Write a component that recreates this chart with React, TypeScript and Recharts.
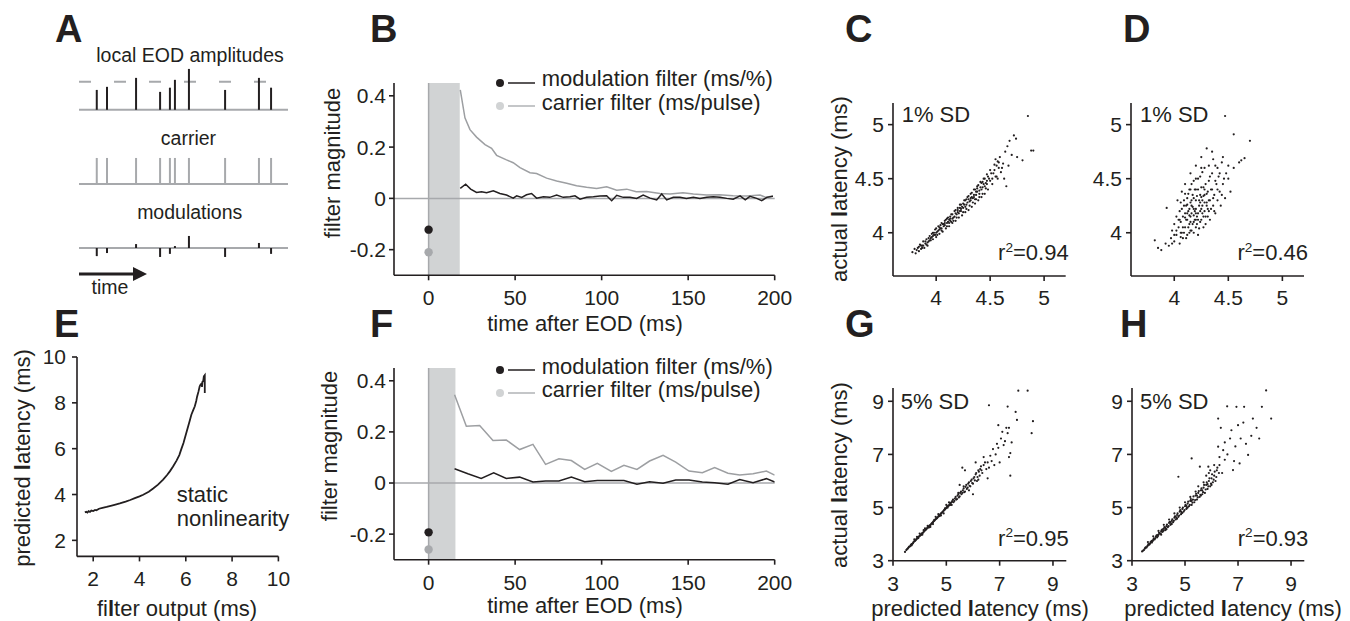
import React from "react";
import {
  ComposedChart,
  ScatterChart,
  Scatter,
  Line,
  XAxis,
  YAxis,
  ReferenceLine,
  ReferenceArea,
} from "recharts";

const INK = "#231f20";
const GREY = "#a7a9ac";
const LINE_GREY = "#9d9fa2";
const SHADE = "#d1d3d4";
const FONT = '"Liberation Sans", Arial, Helvetica, sans-serif';

// ---- panel A: toy pulse train ----
const eodTimes = [0.085, 0.134, 0.273, 0.388, 0.435, 0.459, 0.526, 0.699, 0.861, 0.919];
const eodAmplitudes = [0.71, 0.82, 1.14, 0.64, 0.79, 1.07, 1.46, 0.71, 1.14, 0.79];
const carrierHeights = [0.93, 0.93, 0.93, 0.93, 0.93, 0.93, 0.93, 0.93, 0.93, 0.93];
const modulationHeights = [-0.29, -0.18, 0.14, -0.32, -0.21, 0.07, 0.43, -0.32, 0.18, -0.21];
const meanAmplitude = 1;

// ---- panels B / F: filters (ms after EOD, magnitude) ----
const timeTicks = [0, 50, 100, 150, 200];
const magTicks = [-0.2, 0, 0.2, 0.4];

const carrierB = [
  [18.3, 0.423], [21, 0.314], [23.9, 0.268], [27.7, 0.239], [32.6, 0.21], [36.4, 0.195],
  [39.3, 0.168], [45, 0.15], [48.9, 0.139], [52.8, 0.12], [58.6, 0.1], [62.4, 0.097],
  [68.2, 0.079], [74, 0.068], [79.8, 0.059], [85.5, 0.049], [91.3, 0.043], [97.1, 0.039],
  [102.9, 0.045], [108.7, 0.032], [114.5, 0.036], [120, 0.026], [126, 0.027], [133.7, 0.019],
  [139.5, 0.017], [147, 0.022], [153, 0.017], [160.7, 0.013], [168, 0.014], [176, 0.01],
  [184, 0.009], [191.5, 0.013], [195, 0.004], [199, 0.009],
];
const modulationB = [
  [18.3, 0.039], [21.4, 0.055], [24.3, 0.036], [27.7, 0.023], [30.6, 0.026], [33.5, 0.022],
  [37.4, 0.03], [41.2, 0.019], [45, 0.013], [48.9, 0.001], [50.9, 0.01], [53.8, 0.004],
  [56.6, 0.014], [59.5, 0.019], [62.4, 0.001], [66.3, 0.006], [70, 0.004], [74, 0.013],
  [77.8, 0.004], [81.7, 0.006], [84.6, 0.01], [87.5, -0.003], [91.3, 0.004], [95.2, 0.006],
  [99, 0.009], [102.9, 0.01], [105.8, -0.009], [108.7, 0.012], [112.5, 0.004], [116.4, 0.004],
  [120.2, 0], [124, 0.013], [128, 0.001], [131.8, -0.006], [134.7, 0.017], [137.6, -0.006],
  [141.4, 0.004], [145.3, 0.004], [149, 0], [153, 0.004], [156.8, 0], [160.7, 0.004],
  [164.5, 0.006], [168.4, 0.004], [172.3, 0], [176, -0.003], [180, 0.01], [183, -0.006],
  [185.7, 0.008], [189.6, 0], [192.5, -0.009], [195.4, 0.004], [199, 0.008],
];
const carrierF = [
  [15, 0.345], [21.8, 0.222], [29.5, 0.225], [37.2, 0.166], [44.9, 0.168], [52.6, 0.131],
  [60.3, 0.151], [67.6, 0.073], [75.3, 0.095], [82.5, 0.088], [90.2, 0.053], [97.5, 0.077],
  [105.6, 0.045], [112.9, 0.069], [120.4, 0.053], [127.7, 0.086], [135.5, 0.108], [142.8, 0.082],
  [150.5, 0.047], [158.2, 0.04], [165.3, 0.06], [173, 0.038], [179.8, 0.031], [187.5, 0.036],
  [195.2, 0.047], [200, 0.031],
];
const modulationF = [
  [15, 0.056], [22.7, 0.036], [30.4, 0.018], [37.6, 0.04], [44.9, 0.018], [52.6, 0.023],
  [60.3, 0.004], [67.6, 0.008], [75.3, 0.008], [82.5, 0.023], [90.2, 0.005], [97.5, 0.01],
  [105.6, 0.01], [112.9, 0.01], [120.4, -0.005], [127.7, 0.005], [135.5, -0.001], [142.8, 0.012],
  [150.5, 0.012], [158.2, 0.004], [165.3, 0.001], [173, -0.005], [179.8, 0.014], [187.5, 0.001],
  [195.2, 0.017], [200, 0.004],
];
const instantB = { modulation: -0.122, carrier: -0.21, window: 18 };
const instantF = { modulation: -0.193, carrier: -0.26, window: 15.5 };

// ---- panel E: static nonlinearity ----
const nonlinearity = [
  [1.64, 3.22], [1.7, 3.25], [1.75, 3.21], [1.8, 3.27], [1.86, 3.24], [1.92, 3.3], [2.0, 3.28],
  [2.08, 3.33], [2.14, 3.31], [2.25, 3.38], [2.4, 3.42], [2.58, 3.46], [2.8, 3.52], [3.0, 3.57],
  [3.15, 3.61], [3.4, 3.69], [3.6, 3.76], [3.8, 3.84], [4.0, 3.92], [4.16, 3.99], [4.4, 4.12],
  [4.59, 4.26], [4.8, 4.43], [5.02, 4.65], [5.2, 4.86], [5.31, 5.01], [5.45, 5.22], [5.6, 5.48],
  [5.72, 5.72], [5.81, 5.99], [5.9, 6.25], [5.96, 6.47], [6.03, 6.72], [6.1, 6.97], [6.17, 7.22],
  [6.24, 7.48], [6.32, 7.68], [6.39, 7.85], [6.45, 8.08], [6.49, 8.28], [6.55, 8.5], [6.6, 8.72],
  [6.64, 8.8], [6.68, 8.84], [6.7, 8.7], [6.72, 8.92], [6.75, 8.94], [6.78, 9.16], [6.82, 9.21],
  [6.82, 8.43],
];
const nlTicks = [2, 4, 6, 8, 10];

// ---- panels C, D, G, H: predicted vs actual latency ----
const smallTicks = [4, 4.5, 5];
const bigTicks = [3, 5, 7, 9];

const latencyC = [
  [3.78, 3.82], [3.8, 3.85], [3.81, 3.81], [3.83, 3.86], [3.84, 3.83], [3.85, 3.89], [3.86, 3.85],
  [3.87, 3.88], [3.88, 3.92], [3.89, 3.86], [3.9, 3.9], [3.91, 3.94], [3.92, 3.88], [3.93, 3.92],
  [3.94, 3.97], [3.95, 3.93], [3.96, 3.99], [3.97, 3.94], [3.98, 3.98], [3.99, 4.03], [4.0, 3.96],
  [4.01, 4.01], [4.02, 4.06], [4.03, 3.99], [4.04, 4.04], [4.05, 4.09], [4.06, 4.01], [4.07, 4.06],
  [4.08, 4.11], [4.09, 4.04], [4.1, 4.09], [4.11, 4.14], [4.12, 4.06], [4.13, 4.11], [4.14, 4.17],
  [4.15, 4.09], [4.16, 4.14], [4.17, 4.2], [4.18, 4.11], [4.19, 4.17], [4.2, 4.23], [4.21, 4.14],
  [4.22, 4.2], [4.23, 4.26], [4.24, 4.16], [4.25, 4.23], [4.26, 4.3], [4.27, 4.19], [4.28, 4.26],
  [4.29, 4.33], [4.3, 4.21], [4.31, 4.29], [4.32, 4.36], [4.33, 4.24], [4.34, 4.32], [4.35, 4.4],
  [4.36, 4.27], [4.37, 4.35], [4.38, 4.43], [4.39, 4.3], [4.4, 4.39], [4.41, 4.47], [4.42, 4.33],
  [4.43, 4.42], [4.44, 4.5], [4.45, 4.36], [4.46, 4.46], [4.47, 4.54], [4.48, 4.4], [4.49, 4.5],
  [4.5, 4.58], [4.52, 4.45], [4.53, 4.55], [4.54, 4.63], [4.56, 4.52], [4.57, 4.66], [4.58, 4.6],
  [3.92, 3.91], [3.97, 3.97], [4.02, 4.02], [4.07, 4.08], [4.12, 4.12], [4.17, 4.15], [4.22, 4.23],
  [4.27, 4.24], [4.32, 4.3], [4.37, 4.38], [4.42, 4.4], [4.47, 4.48], [4.05, 4.04], [4.15, 4.13],
  [4.25, 4.27], [4.35, 4.33], [4.45, 4.43], [4.1, 4.13], [4.2, 4.19], [4.3, 4.31], [4.4, 4.36],
  [4.0, 4.0], [3.95, 3.95], [3.87, 3.86],
  [3.82, 3.84], [3.84, 3.87], [3.86, 3.88], [3.88, 3.88], [3.9, 3.92], [3.91, 3.89], [3.93, 3.95],
  [3.94, 3.93], [3.96, 3.96], [3.97, 4.0], [3.99, 3.98], [4.0, 4.04], [4.01, 3.98], [4.03, 4.03],
  [4.04, 4.07], [4.05, 4.02], [4.06, 4.08], [4.08, 4.07], [4.09, 4.12], [4.1, 4.06], [4.11, 4.1],
  [4.13, 4.15], [4.14, 4.1], [4.15, 4.17], [4.16, 4.11], [4.18, 4.18], [4.19, 4.14], [4.2, 4.21],
  [4.21, 4.18], [4.22, 4.26], [4.23, 4.2], [4.24, 4.24], [4.25, 4.19], [4.26, 4.26], [4.27, 4.3],
  [4.28, 4.22], [4.29, 4.28], [4.3, 4.34], [4.31, 4.25], [4.32, 4.32], [4.33, 4.37], [4.34, 4.28],
  [4.35, 4.35], [4.36, 4.4], [4.37, 4.31], [4.38, 4.38], [4.39, 4.44], [4.4, 4.33], [4.41, 4.42],
  [4.42, 4.46], [4.43, 4.36], [4.44, 4.45], [4.45, 4.5], [4.46, 4.41], [4.47, 4.45], [4.48, 4.52],
  [4.5, 4.48], [4.51, 4.55], [4.52, 4.5], [4.54, 4.58], [4.55, 4.52], [4.56, 4.62], [4.58, 4.65],
  [4.28, 4.31], [4.18, 4.21], [4.08, 4.09], [3.98, 4.0], [4.33, 4.33], [4.23, 4.22], [4.13, 4.13],
  [4.03, 4.05], [4.38, 4.41], [4.43, 4.47], [4.12, 4.09], [4.36, 4.31],
  [4.59, 4.7], [4.6, 4.56], [4.62, 4.64], [4.63, 4.5], [4.64, 4.75], [4.65, 4.43], [4.66, 4.8],
  [4.67, 4.62], [4.68, 4.85], [4.7, 4.72], [4.72, 4.9], [4.74, 4.87], [4.75, 4.7], [4.8, 4.67],
  [4.85, 5.08], [4.88, 4.76], [4.9, 4.76], [4.55, 4.68], [4.61, 4.6], [4.57, 4.5],
];
const latencyD = [
  [3.82, 3.93], [3.85, 3.86], [3.88, 3.84], [3.92, 3.9], [3.93, 4.23], [3.95, 3.88], [3.97, 3.95],
  [3.98, 4.02], [4.0, 3.92], [4.0, 4.08], [4.02, 3.98], [4.02, 4.15], [4.03, 4.3], [4.04, 4.05],
  [4.05, 3.9], [4.05, 4.2], [4.06, 4.1], [4.07, 4.0], [4.07, 4.38], [4.08, 4.15], [4.08, 3.95],
  [4.09, 4.25], [4.1, 4.05], [4.1, 4.45], [4.11, 4.12], [4.12, 4.32], [4.12, 3.98], [4.13, 4.2],
  [4.14, 4.08], [4.14, 4.4], [4.15, 4.15], [4.15, 4.55], [4.16, 4.02], [4.16, 4.25], [4.17, 4.35],
  [4.18, 4.1], [4.18, 4.48], [4.19, 4.2], [4.2, 4.05], [4.2, 4.3], [4.2, 4.62], [4.21, 4.15],
  [4.22, 4.4], [4.22, 3.98], [4.23, 4.25], [4.24, 4.1], [4.24, 4.52], [4.25, 4.33], [4.25, 4.7],
  [4.26, 4.18], [4.27, 4.42], [4.27, 4.05], [4.28, 4.28], [4.28, 4.6], [4.29, 4.15], [4.3, 4.36],
  [4.3, 4.78], [4.31, 4.22], [4.32, 4.48], [4.33, 4.3], [4.33, 4.12], [4.34, 4.4], [4.35, 4.55],
  [4.35, 4.75], [4.36, 4.25], [4.37, 4.35], [4.38, 4.62], [4.38, 4.18], [4.39, 4.45], [4.4, 4.3],
  [4.41, 4.52], [4.42, 4.38], [4.43, 4.25], [4.44, 4.65], [4.45, 4.45], [4.47, 4.32], [4.48, 4.55],
  [4.5, 4.5], [4.52, 4.38], [4.55, 4.6], [4.47, 5.08], [4.55, 4.91], [4.6, 4.65], [4.62, 4.67],
  [4.65, 4.69], [4.7, 4.85], [4.15, 4.1], [4.18, 4.22], [4.2, 4.18], [4.22, 4.12], [4.25, 4.22],
  [4.12, 4.12], [4.1, 4.18], [4.26, 4.3], [4.14, 4.0], [4.06, 4.0], [4.3, 4.28], [4.32, 4.2],
  [4.28, 4.4], [4.24, 4.35], [4.2, 4.4], [4.16, 4.3],
  [4.05, 4.12], [4.06, 3.96], [4.07, 4.22], [4.08, 4.05], [4.09, 4.3], [4.09, 4.0], [4.1, 4.14],
  [4.11, 4.25], [4.11, 3.95], [4.12, 4.18], [4.13, 4.05], [4.13, 4.36], [4.14, 4.22], [4.15, 4.02],
  [4.15, 4.28], [4.16, 4.18], [4.16, 4.45], [4.17, 4.08], [4.17, 4.24], [4.18, 4.0], [4.18, 4.32],
  [4.19, 4.12], [4.19, 4.4], [4.2, 4.22], [4.21, 4.08], [4.21, 4.34], [4.22, 4.18], [4.22, 4.5],
  [4.23, 4.04], [4.23, 4.3], [4.24, 4.2], [4.25, 4.12], [4.25, 4.42], [4.26, 4.25], [4.26, 4.56],
  [4.27, 4.15], [4.27, 4.34], [4.28, 4.2], [4.29, 4.45], [4.29, 4.08], [4.3, 4.25], [4.31, 4.38],
  [4.31, 4.15], [4.32, 4.3], [4.33, 4.52], [4.34, 4.22], [4.35, 4.4], [4.36, 4.32], [4.37, 4.2],
  [4.38, 4.48], [4.4, 4.4], [4.42, 4.55], [4.44, 4.35], [4.46, 4.5], [4.12, 4.26], [4.14, 4.16],
  [4.18, 4.16], [4.2, 4.12], [4.24, 4.28], [4.28, 4.35], [4.02, 4.02], [4.04, 4.12], [4.0, 3.98],
  [3.98, 3.9], [4.1, 4.36], [4.06, 4.28], [4.2, 4.5], [4.32, 4.62], [4.4, 4.6], [4.36, 4.68],
  [4.45, 4.7], [4.5, 4.62], [4.25, 4.6], [4.15, 4.4],
];
const latencyG = [
  [3.45, 3.33], [3.5, 3.4], [3.55, 3.45], [3.6, 3.52], [3.65, 3.55], [3.7, 3.62], [3.75, 3.66],
  [3.8, 3.73], [3.85, 3.77], [3.9, 3.83], [3.95, 3.88], [4.0, 3.93], [4.05, 3.97], [4.1, 4.04],
  [4.15, 4.08], [4.2, 4.14], [4.25, 4.18], [4.3, 4.24], [4.35, 4.29], [4.4, 4.34], [4.45, 4.4],
  [4.5, 4.45], [4.55, 4.5], [4.6, 4.56], [4.65, 4.6], [4.7, 4.66], [4.75, 4.72], [4.8, 4.77],
  [4.85, 4.82], [4.9, 4.88], [4.95, 4.93], [5.0, 4.98], [5.05, 5.05], [5.1, 5.08], [5.15, 5.16],
  [5.2, 5.2], [3.7, 3.58], [3.9, 3.9], [4.1, 3.98], [4.3, 4.31], [4.5, 4.38], [4.7, 4.75],
  [4.9, 4.78], [5.0, 5.1], [4.2, 4.22], [4.4, 4.27], [4.6, 4.65], [4.8, 4.7], [5.1, 5.2],
  [5.2, 5.1], [3.8, 3.8], [4.0, 4.02],
  [3.52, 3.43], [3.57, 3.48], [3.62, 3.53], [3.67, 3.6], [3.72, 3.63], [3.77, 3.7], [3.82, 3.74],
  [3.87, 3.8], [3.92, 3.85], [3.97, 3.91], [4.02, 3.95], [4.07, 4.01], [4.12, 4.05], [4.17, 4.12],
  [4.22, 4.16], [4.27, 4.22], [4.32, 4.26], [4.37, 4.32], [4.42, 4.37], [4.47, 4.42], [4.52, 4.48],
  [4.57, 4.53], [4.62, 4.58], [4.67, 4.63], [4.72, 4.7], [4.77, 4.74], [4.82, 4.8], [4.87, 4.85],
  [4.92, 4.91], [4.97, 4.96], [5.02, 5.02], [5.07, 5.06], [5.12, 5.12], [5.17, 5.18], [5.22, 5.24],
  [5.27, 5.2], [5.32, 5.34], [5.37, 5.3], [5.42, 5.45], [5.47, 5.38], [5.52, 5.55], [5.57, 5.5],
  [5.62, 5.65], [5.67, 5.58], [5.72, 5.78], [5.77, 5.7], [5.82, 5.9], [5.87, 5.82], [5.92, 6.0],
  [5.97, 5.92], [6.02, 6.1], [6.07, 6.02], [6.12, 6.3], [6.17, 6.15], [6.22, 6.35], [6.27, 6.45],
  [6.32, 6.4], [4.35, 4.25], [4.55, 4.54], [4.75, 4.68], [4.95, 4.97], [5.15, 5.1], [3.95, 3.85],
  [4.15, 4.15], [5.05, 5.0], [5.25, 5.3], [5.45, 5.55], [5.65, 5.8], [6.45, 6.7], [6.6, 6.5],
  [5.3, 5.25], [5.35, 5.4], [5.4, 5.32], [5.45, 5.5], [5.5, 5.42], [5.55, 5.6], [5.6, 5.55],
  [5.65, 5.72], [5.7, 5.6], [5.75, 5.85], [5.8, 5.75], [5.85, 5.95], [5.9, 5.8], [5.95, 6.05],
  [6.0, 5.9], [6.05, 6.15], [6.1, 6.25], [6.15, 6.0], [6.2, 6.4], [6.25, 6.2], [6.3, 6.55],
  [6.35, 6.3], [6.4, 6.6], [5.6, 6.5], [5.7, 6.4], [6.1, 6.7], [5.5, 5.85], [6.0, 5.5],
  [5.85, 5.65],
  [6.5, 6.45], [6.55, 6.1], [6.55, 6.7], [6.6, 8.85], [6.65, 6.95], [6.7, 6.75], [6.75, 7.2],
  [6.8, 6.6], [6.85, 7.0], [6.9, 7.4], [6.95, 8.1], [6.95, 7.25], [7.0, 6.7], [7.05, 7.6],
  [7.1, 7.85], [7.15, 7.35], [7.2, 7.5], [7.25, 8.0], [7.3, 7.8], [7.35, 6.9], [7.4, 7.05],
  [7.4, 6.2], [7.45, 7.45], [7.35, 8.0], [7.3, 8.8], [7.6, 8.6], [7.7, 9.4], [7.65, 8.3],
  [8.05, 9.4], [8.25, 8.25], [8.2, 7.8], [6.4, 6.9], [6.2, 6.05],
];
const latencyH = [
  [3.38, 3.35], [3.45, 3.4], [3.5, 3.48], [3.55, 3.5], [3.6, 3.58], [3.65, 3.6], [3.7, 3.7],
  [3.75, 3.68], [3.8, 3.78], [3.85, 3.8], [3.9, 3.9], [3.95, 3.88], [4.0, 3.98], [4.05, 4.02],
  [4.1, 4.1], [4.15, 4.08], [4.2, 4.2], [4.25, 4.15], [4.3, 4.3], [4.35, 4.26], [4.4, 4.42],
  [4.45, 4.35], [4.5, 4.5], [4.55, 4.45], [4.6, 4.62], [4.65, 4.55], [4.7, 4.72], [4.75, 4.65],
  [4.8, 4.85], [4.85, 4.75], [4.9, 4.95], [4.95, 4.85], [5.0, 5.05], [5.05, 4.95], [5.1, 5.15],
  [5.15, 5.05], [5.2, 5.25], [5.25, 5.1], [5.3, 5.3], [5.35, 5.2], [5.4, 5.45], [5.45, 5.3],
  [5.5, 5.55], [5.55, 5.4], [5.6, 5.65], [5.65, 5.5], [5.7, 5.75], [5.75, 5.55], [5.8, 5.85],
  [5.85, 5.7], [5.9, 6.0], [5.95, 5.8], [6.0, 6.1], [6.05, 5.95], [6.1, 6.2], [6.15, 6.0],
  [3.6, 3.7], [3.8, 3.92], [4.0, 4.12], [4.2, 4.35], [4.4, 4.55], [4.6, 4.78], [4.8, 5.0],
  [5.0, 5.2], [4.1, 3.98], [4.3, 4.18], [4.5, 4.38], [4.7, 4.58], [4.9, 4.8], [5.1, 5.0],
  [5.2, 5.4], [5.4, 5.6], [5.5, 5.8], [5.6, 5.45], [5.7, 5.95], [5.8, 6.2], [5.9, 6.3],
  [6.0, 5.85], [6.2, 6.4], [6.3, 6.6], [6.4, 6.3], [6.5, 6.8],
  [3.42, 3.38], [3.48, 3.45], [3.52, 3.5], [3.58, 3.55], [3.62, 3.62], [3.68, 3.64], [3.72, 3.72],
  [3.78, 3.74], [3.82, 3.84], [3.88, 3.84], [3.92, 3.94], [3.98, 3.93], [4.02, 4.05], [4.08, 4.02],
  [4.12, 4.15], [4.18, 4.12], [4.22, 4.26], [4.28, 4.2], [4.32, 4.36], [4.38, 4.3], [4.42, 4.46],
  [4.48, 4.4], [4.52, 4.56], [4.58, 4.5], [4.62, 4.67], [4.68, 4.6], [4.72, 4.78], [4.78, 4.7],
  [4.82, 4.9], [4.88, 4.8], [4.92, 5.0], [4.98, 4.9], [5.02, 5.1], [5.08, 5.0], [5.12, 5.22],
  [5.18, 5.1], [5.22, 5.32], [5.28, 5.18], [5.32, 5.42], [5.38, 5.28], [5.42, 5.52], [5.48, 5.38],
  [5.52, 5.62], [5.58, 5.48], [5.62, 5.72], [5.68, 5.58], [5.72, 5.85], [5.78, 5.68], [5.82, 5.95],
  [5.88, 5.8], [5.92, 6.1], [5.98, 5.9], [6.02, 6.25], [6.08, 6.05], [6.12, 6.35], [6.18, 6.15],
  [6.22, 6.5], [6.28, 6.3], [4.25, 4.25], [4.45, 4.45], [4.65, 4.66], [4.85, 4.85], [5.05, 5.06],
  [5.25, 5.25], [5.45, 5.45], [5.65, 5.65], [5.85, 5.88], [3.75, 3.75], [3.95, 3.96], [4.15, 4.18],
  [4.75, 6.16], [5.25, 6.85], [5.56, 6.54], [5.88, 6.54], [6.25, 8.35], [6.94, 8.79], [7.23, 8.79],
  [7.9, 8.79], [8.06, 9.41], [8.25, 8.35], [6.59, 8.81], [7.56, 8.35], [7.38, 6.98], [7.06, 6.66],
  [6.81, 6.41], [6.75, 7.91], [6.44, 7.16], [6.25, 7.29], [6.6, 7.0], [6.7, 7.6], [6.9, 7.3],
  [7.0, 8.1], [7.1, 7.6], [7.2, 8.2], [7.3, 7.4], [7.5, 7.7], [7.7, 8.0], [7.8, 7.6], [6.3, 6.9],
  [6.85, 6.75], [6.5, 7.45], [5.95, 6.4], [6.1, 6.6], [6.35, 8.0],
];

const toXY = (pts: number[][]) => pts.map(([x, y]) => ({ x, y }));

// ---- layout helpers ----
type Box = { l: number; t: number; r: number; b: number };
const YW = 60;
const XH = 50;
const MT = 20;
const MR = 30;

function frame(box: Box) {
  return {
    style: { position: "absolute", left: box.l - YW, top: box.t - MT } as React.CSSProperties,
    width: box.r - box.l + YW + MR,
    height: box.b - box.t + MT + XH,
    margin: { top: MT, right: MR, bottom: 0, left: 0 },
  };
}

const axisStroke = { stroke: INK, strokeWidth: 1.6 };
const tickText = { fill: INK, fontSize: 21, fontFamily: FONT };

type TProps = {
  x: number;
  y: number;
  size?: number;
  anchor?: "start" | "middle" | "end";
  bold?: boolean;
  rotate?: boolean;
  children: React.ReactNode;
};

// y is the vertical middle of the cap height
function T({ x, y, size = 22, anchor = "start", bold, rotate, children }: TProps) {
  const W = 1000;
  const top = y - 0.4885 * size;
  const left = anchor === "start" ? x : anchor === "middle" ? x - W / 2 : x - W;
  const ox = anchor === "start" ? 0 : anchor === "middle" ? W / 2 : W;
  return (
    <div
      style={{
        position: "absolute",
        left,
        top,
        width: W,
        textAlign: anchor === "start" ? "left" : anchor === "middle" ? "center" : "right",
        fontSize: size,
        lineHeight: 1,
        fontWeight: bold ? 700 : 400,
        whiteSpace: "nowrap",
        color: INK,
        transform: rotate ? "rotate(-90deg)" : undefined,
        transformOrigin: `${ox}px ${size / 2}px`,
        pointerEvents: "none",
      }}
    >
      {children}
    </div>
  );
}

const L = () => <span style={{ fontWeight: 700 }}>l</span>;
const Sq = () => (
  <span style={{ fontSize: "0.62em", position: "relative", top: "-0.6em" }}>2</span>
);

// ---- panel A ----
function SpikeTrack({
  box,
  domain,
  heights,
  color,
  dashedAt,
}: {
  box: Box;
  domain: [number, number];
  heights: number[];
  color: string;
  dashedAt?: number;
}) {
  const pad = 4;
  const rows = eodTimes.map((t, i) => ({ t, v: heights[i] }));
  return (
    <div style={{ position: "absolute", left: box.l, top: box.t - pad }}>
      <ComposedChart
        width={box.r - box.l}
        height={box.b - box.t + 2 * pad}
        margin={{ top: pad, right: 0, bottom: pad, left: 0 }}
        data={rows}
      >
        <XAxis type="number" dataKey="t" domain={[0, 1]} hide allowDataOverflow />
        <YAxis type="number" dataKey="v" domain={domain} hide allowDataOverflow />
        {dashedAt !== undefined && (
          <ReferenceLine y={dashedAt} stroke={GREY} strokeWidth={2} strokeDasharray="12 23" />
        )}
        <ReferenceLine y={0} stroke={GREY} strokeWidth={2} />
        {rows.map((r) => (
          <ReferenceLine
            key={r.t}
            segment={[
              { x: r.t, y: 0 },
              { x: r.t, y: r.v },
            ]}
            stroke={color}
            strokeWidth={2}
          />
        ))}
      </ComposedChart>
    </div>
  );
}

function PanelA() {
  const l = 79.3;
  const r = 288.3;
  return (
    <>
      <T x={190} y={55.7} size={19.5} anchor="middle">local EOD amplitudes</T>
      <SpikeTrack box={{ l, r, t: 65.2, b: 110 }} domain={[0, 1.6]} heights={eodAmplitudes} color={INK} dashedAt={meanAmplitude} />
      <T x={188.5} y={139} size={19.5} anchor="middle">carrier</T>
      <SpikeTrack box={{ l, r, t: 156, b: 184 }} domain={[0, 1]} heights={carrierHeights} color={GREY} />
      <T x={189.7} y={213} size={19.5} anchor="middle">modulations</T>
      <SpikeTrack box={{ l, r, t: 234, b: 262 }} domain={[-0.5, 0.5]} heights={modulationHeights} color={INK} />
      <svg style={{ position: "absolute", left: 79, top: 266 }} width={70} height={16}>
        <line x1={0} y1={8} x2={56} y2={8} stroke={INK} strokeWidth={3} />
        <polygon points="54,1 68,8 54,15" fill={INK} />
      </svg>
      <T x={110} y={288} size={19.5} anchor="middle">time</T>
    </>
  );
}

// ---- panels B / F ----
const bigDot = (color: string) => (p: any) => <circle cx={p.cx} cy={p.cy} r={4.2} fill={color} />;

function FilterPanel({
  box,
  carrier,
  modulation,
  instant,
}: {
  box: Box;
  carrier: number[][];
  modulation: number[][];
  instant: { modulation: number; carrier: number; window: number };
}) {
  const f = frame(box);
  return (
    <div style={f.style}>
      <ComposedChart width={f.width} height={f.height} margin={f.margin}>
        <XAxis
          type="number"
          dataKey="x"
          domain={[-20, 200]}
          ticks={timeTicks}
          interval={0}
          allowDataOverflow
          height={XH}
          tickSize={5}
          tickMargin={10}
          tick={tickText}
          axisLine={axisStroke}
          tickLine={axisStroke}
        />
        <YAxis
          type="number"
          dataKey="y"
          domain={[-0.3, 0.45]}
          ticks={magTicks}
          interval={0}
          allowDataOverflow
          width={YW}
          tickSize={5}
          tickMargin={3}
          tick={tickText}
          axisLine={axisStroke}
          tickLine={axisStroke}
        />
        <ReferenceArea x1={0} x2={instant.window} y1={-0.3} y2={0.45} fill={SHADE} fillOpacity={1} stroke="none" />
        <ReferenceLine y={0} stroke={GREY} strokeWidth={1.5} />
        <ReferenceLine x={0} stroke={GREY} strokeWidth={1.5} />
        <Line data={toXY(carrier)} dataKey="y" stroke={LINE_GREY} strokeWidth={1.5} dot={false} isAnimationActive={false} />
        <Line data={toXY(modulation)} dataKey="y" stroke={INK} strokeWidth={1.5} dot={false} isAnimationActive={false} />
        <Scatter data={[{ x: 0, y: instant.carrier }]} dataKey="y" shape={bigDot(GREY)} isAnimationActive={false} />
        <Scatter data={[{ x: 0, y: instant.modulation }]} dataKey="y" shape={bigDot(INK)} isAnimationActive={false} />
      </ComposedChart>
    </div>
  );
}

function FilterLegend({ x, y1, y2 }: { x: number; y1: number; y2: number }) {
  const key = (y: number, dot: string, line: string) => (
    <svg style={{ position: "absolute", left: x - 5, top: y - 5 }} width={42} height={10}>
      <circle cx={5} cy={5} r={4} fill={dot} />
      <line x1={13} y1={5} x2={40} y2={5} stroke={line} strokeWidth={1.5} />
    </svg>
  );
  return (
    <>
      {key(y1, INK, INK)}
      <T x={x + 41.7} y={y1 - 3.5}>modulation filter (ms/%)</T>
      {key(y2, "#d1d3d4", "#b1b3b6")}
      <T x={x + 41.7} y={y2 - 2.5}>carrier filter (ms/pulse)</T>
    </>
  );
}

// ---- panel E ----
function PanelE() {
  const box = { l: 77.3, t: 357.3, r: 278.7, b: 556.7 };
  const f = frame(box);
  return (
    <div style={f.style}>
      <ComposedChart width={f.width} height={f.height} margin={f.margin}>
        <XAxis
          type="number"
          dataKey="x"
          domain={[1.3, 10]}
          ticks={nlTicks}
          interval={0}
          allowDataOverflow
          height={XH}
          tickSize={5}
          tickMargin={10}
          tick={tickText}
          axisLine={axisStroke}
          tickLine={axisStroke}
        />
        <YAxis
          type="number"
          dataKey="y"
          domain={[1.3, 10]}
          ticks={nlTicks}
          interval={0}
          allowDataOverflow
          width={YW}
          tickSize={5}
          tickMargin={6}
          tick={tickText}
          axisLine={axisStroke}
          tickLine={axisStroke}
        />
        <Line data={toXY(nonlinearity)} dataKey="y" stroke={INK} strokeWidth={1.8} dot={false} isAnimationActive={false} />
      </ComposedChart>
    </div>
  );
}

// ---- scatter panels ----
const speck = (p: any) => <circle cx={p.cx} cy={p.cy} r={1.1} fill={INK} />;

function LatencyScatter({
  box,
  domain,
  ticks,
  points,
  tickMargin,
}: {
  box: Box;
  domain: [number, number];
  ticks: number[];
  points: number[][];
  tickMargin: number;
}) {
  const f = frame(box);
  return (
    <div style={f.style}>
      <ScatterChart width={f.width} height={f.height} margin={f.margin}>
        <XAxis
          type="number"
          dataKey="x"
          domain={domain}
          ticks={ticks}
          interval={0}
          allowDataOverflow
          height={XH}
          tickSize={5}
          tickMargin={tickMargin}
          tick={tickText}
          axisLine={axisStroke}
          tickLine={axisStroke}
        />
        <YAxis
          type="number"
          dataKey="y"
          domain={domain}
          ticks={ticks}
          interval={0}
          allowDataOverflow
          width={YW}
          tickSize={5}
          tickMargin={4}
          tick={tickText}
          axisLine={axisStroke}
          tickLine={axisStroke}
        />
        <Scatter data={toXY(points)} shape={speck} isAnimationActive={false} />
      </ScatterChart>
    </div>
  );
}

export default function App() {
  return (
    <div
      style={{
        position: "absolute",
        left: 0,
        top: 0,
        width: 1350,
        height: 621,
        background: "#fff",
        fontFamily: FONT,
        color: INK,
        overflow: "hidden",
      }}
    >
      {/* panel letters */}
      <T x={55} y={28.5} size={38} bold>A</T>
      <T x={370} y={28.5} size={38} bold>B</T>
      <T x={845} y={28.5} size={38} bold>C</T>
      <T x={1123} y={28.5} size={38} bold>D</T>
      <T x={54} y={323.5} size={38} bold>E</T>
      <T x={370} y={323.5} size={38} bold>F</T>
      <T x={845} y={323.5} size={38} bold>G</T>
      <T x={1120} y={323.5} size={38} bold>H</T>

      <PanelA />

      <FilterPanel box={{ l: 394.3, t: 82.7, r: 775, b: 275 }} carrier={carrierB} modulation={modulationB} instant={instantB} />
      <FilterLegend x={500} y1={82.7} y2={105.7} />
      <T x={333} y={163} rotate anchor="middle">filter magnitude</T>
      <T x={585} y={324} anchor="middle">time after EOD (ms)</T>

      <FilterPanel box={{ l: 394.3, t: 368.3, r: 775, b: 560 }} carrier={carrierF} modulation={modulationF} instant={instantF} />
      <FilterLegend x={500} y1={370} y2={392.7} />
      <T x={330} y={446} rotate anchor="middle">filter magnitude</T>
      <T x={585} y={605.5} anchor="middle">time after EOD (ms)</T>

      <PanelE />
      <T x={23} y={458} rotate anchor="middle">predicted <L />atency (ms)</T>
      <T x={177} y={609} anchor="middle">fi<L />ter output (ms)</T>
      <T x={176.7} y={494.5}>static</T>
      <T x={176.7} y={518.5}>nonlinearity</T>

      <LatencyScatter box={{ l: 893.3, t: 102.7, r: 1066, b: 275.7 }} domain={[3.6, 5.2]} ticks={smallTicks} points={latencyC} tickMargin={9.5} />
      <T x={901.7} y={115}>1% SD</T>
      <T x={1068.7} y={252.7} anchor="end">r<Sq />=0.94</T>
      <T x={840} y={189} rotate anchor="middle">actual <L />atency (ms)</T>

      <LatencyScatter box={{ l: 1131, t: 102.7, r: 1304, b: 275.7 }} domain={[3.6, 5.2]} ticks={smallTicks} points={latencyD} tickMargin={9.5} />
      <T x={1140} y={115}>1% SD</T>
      <T x={1308} y={252.7} anchor="end">r<Sq />=0.46</T>

      <LatencyScatter box={{ l: 892.7, t: 388.3, r: 1066, b: 561 }} domain={[3, 9.5]} ticks={bigTicks} points={latencyG} tickMargin={10.5} />
      <T x={900.7} y={401.7}>5% SD</T>
      <T x={1068.7} y={538.3} anchor="end">r<Sq />=0.95</T>
      <T x={840} y={475} rotate anchor="middle">actual <L />atency (ms)</T>
      <T x={980} y={609} anchor="middle">predicted <L />atency (ms)</T>

      <LatencyScatter box={{ l: 1131.7, t: 388.3, r: 1304, b: 561 }} domain={[3, 9.5]} ticks={bigTicks} points={latencyH} tickMargin={10.5} />
      <T x={1140} y={401.7}>5% SD</T>
      <T x={1308.3} y={538.3} anchor="end">r<Sq />=0.93</T>
      <T x={1233} y={609} anchor="middle">predicted <L />atency (ms)</T>
    </div>
  );
}
